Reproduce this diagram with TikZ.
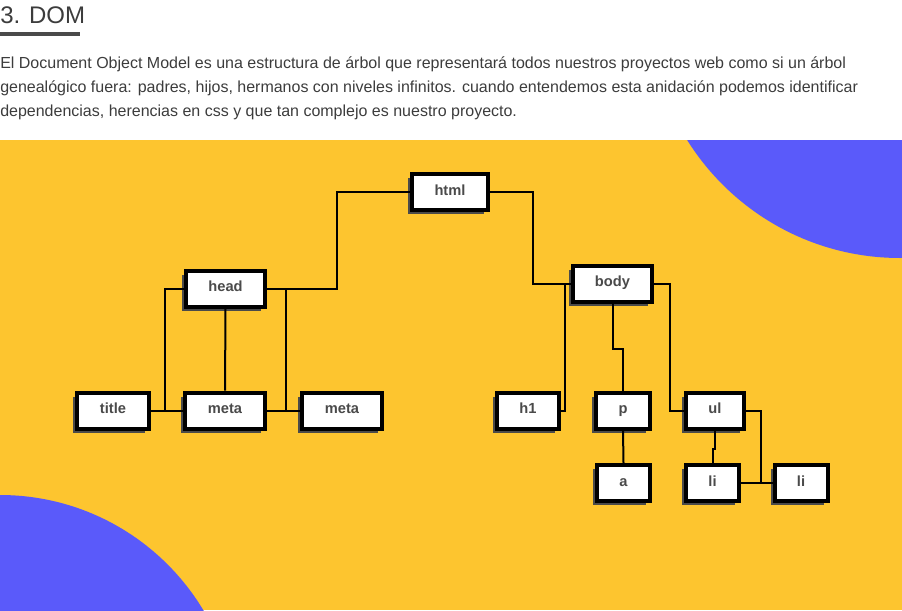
\documentclass[tikz,border=0pt]{standalone}
\usepackage{fontspec}
\setmainfont{Liberation Sans}
\usepackage{tikz}
\usetikzlibrary{shadows}
\definecolor{domyellow}{HTML}{FDC52F}
\definecolor{domblue}{HTML}{5A5AFA}
\definecolor{domgray}{HTML}{4A4A4A}
\definecolor{domtext}{HTML}{3C3C3C}
\def\PX{0.75pt}
\def\BoxH{36}
\tikzset{
	tag/.style={draw=black,line width=4*\PX,fill=white,minimum height=\BoxH*\PX,
		inner sep=0pt,text height=8pt,text depth=3.5pt,text=domgray,font=\bfseries\fontsize{11pt}{13pt}\selectfont,
		drop shadow={shadow xshift=-4*\PX,shadow yshift=-4*\PX,fill=domgray,opacity=1}},
	link/.style={draw=black,line width=2*\PX},
	para/.style={anchor=base west,inner sep=0pt,text=domtext,font=\fontsize{12pt}{14pt}\selectfont}
}
\begin{document}
\begin{tikzpicture}[x=\PX,y=-\PX]
			\useasboundingbox (0,0) rectangle (902,610);
			% header
			\node[anchor=base west,inner sep=0pt,text=domtext,font=\fontsize{18pt}{20pt}\selectfont] (title) at (0,24) {3. DOM};
			\fill[domgray] (0,32) rectangle (80,36);
			\node[para] (l1) at (0,69) {El Document Object Model es una estructura de árbol que representará todos nuestros proyectos web como si un árbol};
			\node[para] (l2) at (0,92.5) {genealógico fuera: padres, hijos, hermanos con niveles infinitos. cuando entendemos esta anidación podemos identificar};
			\node[para] (l3) at (0,116) {dependencias, herencias en css y que tan complejo es nuestro proyecto.};
			% background
			\begin{scope}
				\clip (0,140) rectangle (902,610);
				\fill[domyellow] (0,140) rectangle (902,610);
				\fill[domblue] (900,7) circle [radius=251];
				\fill[domblue] (0,732) circle [radius=237];
			\end{scope}
			% 
			\node[tag,minimum width=76*\PX] (html) at (450,192) {html};
			\node[tag,minimum width=79*\PX] (head) at (225.5,288.5) {head};
			\node[tag,minimum width=79*\PX] (body) at (612.5,283.5) {body};
			% 
			\node[tag,minimum width=72*\PX] (tit) at (113,410.5) {title};
			\node[tag,minimum width=80*\PX] (meta1) at (225,410.5) {meta};
			\node[tag,minimum width=80*\PX] (meta2) at (342,410.5) {meta};
			\node[tag,minimum width=62*\PX] (h1) at (528,410.5) {h1};
			\node[tag,minimum width=54*\PX] (p) at (623,410.5) {p};
			\node[tag,minimum width=58*\PX] (ul) at (715,410.5) {ul};
			% 
			\node[tag,minimum width=53*\PX] (a) at (623.5,483) {a};
			\node[tag,minimum width=53*\PX] (li1) at (712.5,483) {li};
			\node[tag,minimum width=53*\PX] (li2) at (801,483) {li};
			% 
			\draw[link] (html.west) -- ++(-73,0) |- (head.east);
			\draw[link] (html.east) -- ++(43,0) |- (body.west);
			\draw[link] (head.west) -- ++(-19,0) |- (tit.east);
			\draw[link] (tit.east) -- (meta1.west);
			\draw[link] (head.south) -- (meta1.north);
			\draw[link] (head.east) -- ++(19,0) |- (meta2.west);
			\draw[link] (meta1.east) -- (meta2.west);
			\draw[link] (body.west) -- ++(-6,0) |- (h1.east);
			\draw[link] (body.south) -- ++(0,45.5) -| (p.north);
			\draw[link] (body.east) -- ++(16,0) |- (ul.west);
			\draw[link] (p.south) -- (a.north);
			\draw[link] (ul.south) -- ++(0,18.5) -| (li1.north);
			\draw[link] (ul.east) -- ++(15,0) |- (li2.west);
			\draw[link] (li1.east) -- (li2.west);
\end{tikzpicture}
\end{document}
